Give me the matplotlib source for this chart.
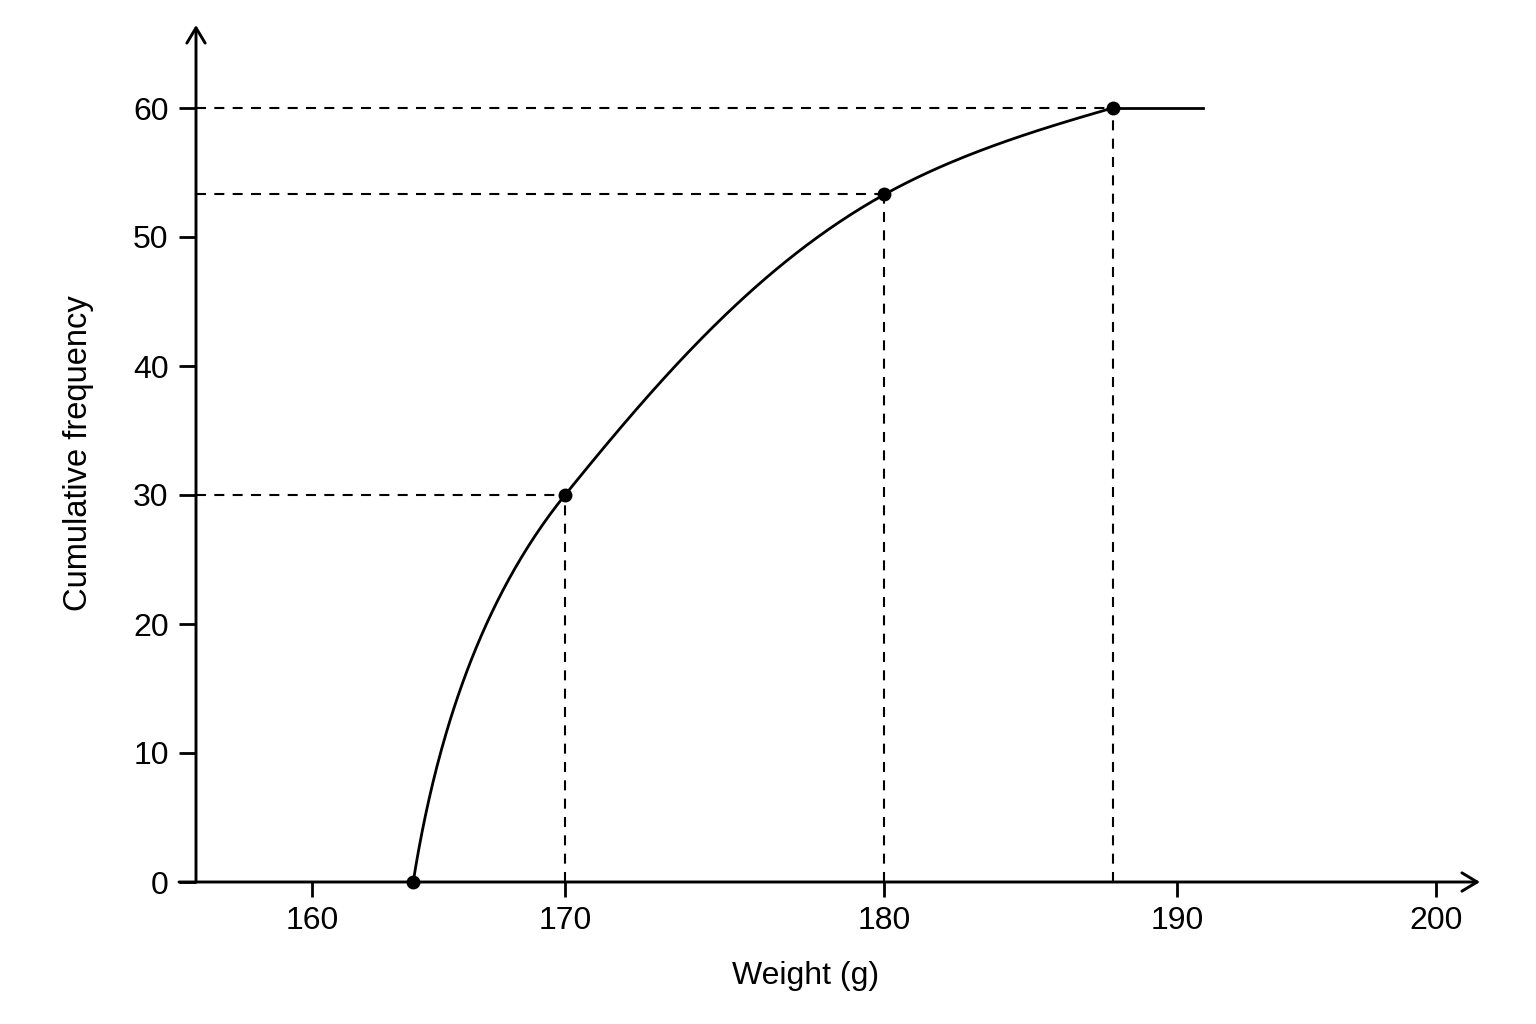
import numpy as np
import matplotlib
matplotlib.use('Agg')
import matplotlib.pyplot as plt
from matplotlib.patches import FancyArrowPatch

# ---------------- data ----------------
weights = [164, 170, 180, 187.8]          # upper class boundaries (g)
cum_freq = [0, 30, 53.3, 60]              # cumulative frequency
plateau_end = 191                         # flat continuation of the curve
x_ticks = [160, 170, 180, 190, 200]
y_ticks = [0, 10, 20, 30, 40, 50, 60]
x_label = 'Weight (g)'
y_label = 'Cumulative frequency'

# ---------------- x-axis calibration (unevenly spaced axis in the reference) ----
cal_w = [160, 170, 180, 190, 200]
cal_px = [312, 565, 884.5, 1177, 1436]


def _interp_ext(x, xp, fp):
    x = np.asarray(x, dtype=float)
    xp = np.asarray(xp, dtype=float)
    fp = np.asarray(fp, dtype=float)
    y = np.interp(x, xp, fp)
    s0 = (fp[1] - fp[0]) / (xp[1] - xp[0])
    s1 = (fp[-1] - fp[-2]) / (xp[-1] - xp[-2])
    y = np.where(x < xp[0], fp[0] + (x - xp[0]) * s0, y)
    y = np.where(x > xp[-1], fp[-1] + (x - xp[-1]) * s1, y)
    return y


def fwd(x):
    return _interp_ext(x, cal_w, cal_px)


def inv(u):
    return _interp_ext(u, cal_px, cal_w)


# ---------------- styling / layout ----------------
plt.rcParams['font.family'] = ['Liberation Sans', 'DejaVu Sans']
plt.rcParams['lines.scale_dashes'] = False

W, H = 1536, 1024
ax_l, ax_r, ax_t, ax_b = 179, 1480, 25, 882     # axes box in pixels
yaxis_px = 196                                   # where the vertical axis sits
px_per_unit_y = (882 - 108) / 60.0

fig = plt.figure(figsize=(W / 100, H / 100), dpi=100)
fig.patch.set_facecolor('white')
ax = fig.add_axes([ax_l / W, 1 - ax_b / H, (ax_r - ax_l) / W, (ax_b - ax_t) / H])
ax.set_xscale('function', functions=(fwd, inv))
ax.set_xlim(float(inv(ax_l)), float(inv(ax_r)))
ax.set_ylim(0, (ax_b - ax_t) / px_per_unit_y)
yaxis_w = float(inv(yaxis_px))

for s in ax.spines.values():
    s.set_visible(False)
ax.spines['left'].set_position(('data', yaxis_w))
ax.spines['bottom'].set_position(('data', 0))

ax.set_xticks(x_ticks)
ax.set_xticklabels([str(t) for t in x_ticks])
ax.set_yticks(y_ticks)
ax.set_yticklabels([str(t) for t in y_ticks])
ax.minorticks_off()
ax.tick_params(axis='y', direction='out', length=12.2, width=2.0, pad=7.5,
               labelsize=23, colors='black')
ax.tick_params(axis='x', direction='out', length=11, width=2.0, pad=6.5,
               labelsize=23, colors='black')

ax.set_ylabel(y_label, fontsize=23.5, labelpad=28)
ax.set_xlabel(x_label, fontsize=23, labelpad=18)
ax.xaxis.label.set_x((806 - ax_l) / (ax_r - ax_l))

# axis lines with open arrow heads
yx = (yaxis_px - ax_l) / (ax_r - ax_l)
arrow_kw = dict(arrowstyle='->,head_length=0.55,head_width=0.33', mutation_scale=20,
                lw=2.1, color='black', shrinkA=0, shrinkB=0, clip_on=False,
                transform=ax.transAxes, zorder=3)
ax.add_patch(FancyArrowPatch((yx, 0), (yx, 1), **arrow_kw))
ax.add_patch(FancyArrowPatch((0, 0), (1, 0), **arrow_kw))

# dashed guide lines
dash_kw = dict(color='black', lw=1.5, dashes=(7.2, 6.0), zorder=2)
for w, c in zip(weights[1:], cum_freq[1:]):
    ax.plot([yaxis_w, w], [c, c], **dash_kw)
    ax.plot([w, w], [0, c], **dash_kw)

# smooth curve through the points (cubic Hermite in display space)
curve_tangent_deg = [81, 51, 29, 16]
P = ax.transData.transform(np.column_stack([weights, cum_freq]))
segs = []
for i in range(len(P) - 1):
    p0, p1 = P[i], P[i + 1]
    L = np.hypot(*(p1 - p0))
    a0, a1 = np.radians(curve_tangent_deg[i]), np.radians(curve_tangent_deg[i + 1])
    c0 = p0 + L / 3 * np.array([np.cos(a0), np.sin(a0)])
    c1 = p1 - L / 3 * np.array([np.cos(a1), np.sin(a1)])
    t = np.linspace(0, 1, 100)[:, None]
    b = ((1 - t) ** 3) * p0 + 3 * ((1 - t) ** 2) * t * c0 + 3 * (1 - t) * t ** 2 * c1 + t ** 3 * p1
    segs.append(b if i == 0 else b[1:])
curve = ax.transData.inverted().transform(np.vstack(segs))
ax.plot(curve[:, 0], curve[:, 1], color='black', lw=2.0, zorder=4,
        solid_capstyle='round', solid_joinstyle='round')
ax.plot([weights[-1], plateau_end], [cum_freq[-1], cum_freq[-1]], color='black',
        lw=2.0, zorder=4)

ax.plot(weights, cum_freq, 'o', ms=9, color='black', zorder=5, clip_on=False)

fig.savefig('out.png', dpi=100, facecolor='white')
